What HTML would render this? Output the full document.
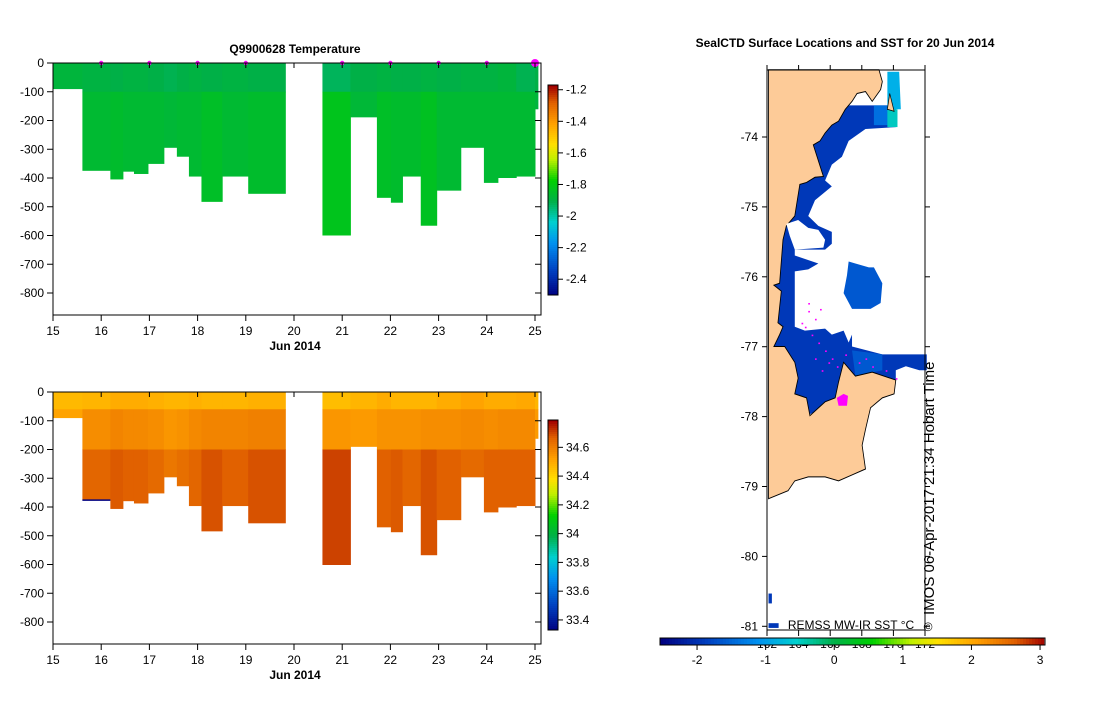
<!DOCTYPE html>
<html><head><meta charset="utf-8"><style>
body{margin:0;background:#fff;}
svg text{font-family:"Liberation Sans",sans-serif;font-size:12px;fill:#000;}
.b{font-weight:bold;}
</style></head><body>
<svg id="s" width="1099" height="700" viewBox="0 0 1099 700" xmlns="http://www.w3.org/2000/svg">
<text x="295" y="53" text-anchor="middle" class="b">Q9900628  Temperature</text>
<text x="845" y="47" text-anchor="middle" class="b">SealCTD Surface Locations and SST for 20 Jun 2014</text>
<g id="map"></g>
</svg>
<script>
const colStart=[15,15.61,16.19,16.45,16.68,16.97,17.30,17.57,17.82,18.08,18.51,19.05,20.59,21.17,21.72,22.01,22.25,22.63,22.96,23.46,23.94,24.23,24.61,25.0];
const colEnd=[15.61,16.19,16.45,16.68,16.97,17.30,17.57,17.82,18.08,18.51,19.05,19.82,21.17,21.72,22.01,22.25,22.63,22.96,23.46,23.94,24.23,24.61,25.0,25.06];
const colDepth=[89,375,405,378,386,351,295,326,395,483,395,455,600,189,469,486,395,566,444,295,417,400,395,161];
const tempSurface=[-1.88,-1.89,-1.9,-1.89,-1.89,-1.9,-1.91,-1.9,-1.89,-1.9,-1.89,-1.9,-1.92,-1.9,-1.89,-1.9,-1.9,-1.89,-1.9,-1.89,-1.89,-1.88,-1.91,-1.9];
const tempDeep=[-1.86,-1.86,-1.85,-1.86,-1.86,-1.86,-1.87,-1.86,-1.86,-1.84,-1.86,-1.85,-1.82,-1.87,-1.84,-1.85,-1.85,-1.83,-1.86,-1.86,-1.86,-1.86,-1.86,-1.88];
const salSurface=[34.47,34.48,34.5,34.5,34.5,34.49,34.48,34.48,34.49,34.48,34.48,34.49,34.46,34.48,34.5,34.48,34.48,34.48,34.5,34.52,34.5,34.5,34.51,34.48];
const salMid=[34.52,34.57,34.59,34.58,34.58,34.57,34.55,34.56,34.58,34.59,34.59,34.6,34.55,34.54,34.56,34.56,34.56,34.57,34.57,34.58,34.57,34.58,34.58,34.54];
const salDeep=[34.56,34.66,34.68,34.67,34.67,34.65,34.62,34.64,34.66,34.69,34.67,34.69,34.71,34.58,34.67,34.68,34.66,34.69,34.67,34.65,34.67,34.67,34.67,34.56];
const dayTicks=[15,16,17,18,19,20,21,22,23,24,25];
const depthTicks=[0,-100,-200,-300,-400,-500,-600,-700,-800];
const markerDays=[16,17,18,19,21,22,23,24,25];
const tempCbTicks=[-1.2,-1.4,-1.6,-1.8,-2,-2.2,-2.4];
const salCbTicks=[34.6,34.4,34.2,34,33.8,33.6,33.4];
const sstTicks=[-2,-1,0,1,2,3];
const latTicks=[-74,-75,-76,-77,-78,-79,-80,-81];
const lonTicks=[162,164,166,168,170,172];

const NS="http://www.w3.org/2000/svg";
const svg=document.getElementById('s');
function el(t,a,p){const e=document.createElementNS(NS,t);for(const k in a)e.setAttribute(k,a[k]);(p||svg).appendChild(e);return e;}
const stops=[[0,[0,0,128]],[0.12,[0,64,192]],[0.25,[0,144,240]],[0.35,[0,208,208]],[0.45,[0,176,72]],[0.55,[0,208,0]],[0.65,[192,240,0]],[0.72,[255,224,0]],[0.82,[255,160,0]],[0.92,[224,96,0]],[1,[160,0,0]]];
function jet(f){f=Math.max(0,Math.min(1,f));for(let i=1;i<stops.length;i++){if(f<=stops[i][0]){const a=stops[i-1],b=stops[i];const t=(f-a[0])/(b[0]-a[0]);const c=a[1].map((v,j)=>Math.round(v+(b[1][j]-v)*t));return `rgb(${c})`;}}return 'rgb(160,0,0)';}

function panel(top,name,cb){
  const X=d=>53+(d-15)*48.2, Y=z=>top+(-z)*0.2875;
  const g=el('g',{});
  cb.draw(g,X,Y);
  const fr=el('rect',{x:53,y:top,width:488,height:252,fill:'none',stroke:'#000','stroke-width':1},g);
  
  depthTicks.forEach(v=>{const y=Y(v);el('line',{x1:47,x2:53,y1:y,y2:y,stroke:'#000'},g);el('line',{x1:535,x2:541,y1:y,y2:y,stroke:'#000'},g);
    const t=el('text',{x:44,y:y+4,'text-anchor':'end'},g);t.textContent=v;});
  dayTicks.forEach(d=>{const x=X(d);el('line',{x1:x,x2:x,y1:top+252,y2:top+258,stroke:'#000'},g);el('line',{x1:x,x2:x,y1:top,y2:top+5,stroke:'#000'},g);
    const t=el('text',{x:x,y:top+272,'text-anchor':'middle'},g);t.textContent=d;});
  const xl=el('text',{x:295,y:top+287,'text-anchor':'middle',class:'b'},g);xl.textContent='Jun 2014';
  const cy0=cb.y0;
  for(let i=0;i<105;i++){const f=1-i/105;el('rect',{x:548,y:cy0+i*2,width:10,height:2.3,fill:jet(f)},g);}
  const cf=el('rect',{x:548,y:cy0,width:10,height:210,fill:'none',stroke:'#000'},g);
  cb.ticks.forEach(v=>{const y=cy0+(cb.max-v)/(cb.max-cb.min)*210;el('line',{x1:558,x2:563,y1:y,y2:y,stroke:'#000'},g);
    const t=el('text',{x:566,y:y+4},g);t.textContent=v;});
}
const TMIN=-2.5,TMAX=-1.17,SMIN=33.33,SMAX=34.79;
panel(63,'temperature',{y0:85,min:TMIN,max:TMAX,ticks:tempCbTicks,draw:(g,X,Y)=>{
  colStart.forEach((s,i)=>{const x=X(s),w=X(colEnd[i])-x;const d1=Math.min(100,colDepth[i]);
    const a=el('rect',{x:x,y:Y(0),width:w+0.5,height:Y(-d1)-Y(0)+0.5,fill:jet((tempSurface[i]-TMIN)/(TMAX-TMIN))},g);
    
    if(colDepth[i]>100){const b=el('rect',{x:x,y:Y(-100),width:w+0.5,height:Y(-colDepth[i])-Y(-100),fill:jet((tempDeep[i]-TMIN)/(TMAX-TMIN))},g);
      }});
  markerDays.forEach((d,i)=>{const c=el('circle',{cx:X(d),cy:Y(0),r:i==markerDays.length-1?4:2.2,fill:'#ff00ff'},g);});
}});
panel(392,'salinity',{y0:420,min:SMIN,max:SMAX,ticks:salCbTicks,draw:(g,X,Y)=>{
  colStart.forEach((s,i)=>{const x=X(s),w=X(colEnd[i])-x,D=colDepth[i];
    const bands=[[0,Math.min(60,D),salSurface[i]],[60,Math.min(200,D),salMid[i]],[200,D,salDeep[i]]];
    bands.forEach(b=>{if(b[1]<=b[0])return;const r=el('rect',{x:x,y:Y(-b[0]),width:w+0.5,height:Y(-b[1])-Y(-b[0])+0.5,fill:jet((b[2]-SMIN)/(SMAX-SMIN))},g);
      });});
  el('line',{x1:X(15.61),x2:X(16.19),y1:Y(-376),y2:Y(-376),stroke:'#000080','stroke-width':1.5},g);
}});

const m=document.getElementById('map');
const inner=el('g',{transform:'translate(650,50) scale(0.3367,0.3953)'},m);
const sea=el('polygon',{fill:'#0038b8',points:'352,140 730,140 730,195 640,200 590,230 570,270 540,290 520,330 540,345 490,380 470,420 500,445 540,460 540,490 520,505 430,505 430,520 500,540 470,555 430,560 430,700 460,710 520,705 540,720 575,710 590,740 600,720 600,750 690,770 822,770 822,810 800,810 760,800 730,810 730,840 352,960'},inner);

el('polygon',{fill:'#0070e0',points:'665,140 730,140 730,190 665,190'},inner);
el('polygon',{fill:'#00b0e8',points:'705,55 740,55 745,150 705,150'},inner);
el('polygon',{fill:'#00c8c0',points:'705,150 735,150 735,195 705,195'},inner);
const patch=el('polygon',{fill:'#0058d0',points:'590,535 610,540 650,550 665,550 690,590 685,640 655,655 600,655 575,615 585,570'},inner);

el('polygon',{fill:'#0058d0',points:'600,760 690,770 690,810 610,825'},inner);
const land=el('polygon',{fill:'#fdcb98',stroke:'#000','stroke-width':2.5,points:'352,50 680,50 690,80 685,100 660,130 640,105 615,110 600,130 580,150 560,180 540,190 520,210 505,230 485,240 500,280 515,320 490,322 465,335 445,340 430,420 405,445 395,480 385,590 368,595 390,610 380,690 395,700 385,720 368,750 400,750 430,790 440,830 430,870 465,880 475,925 520,890 550,880 560,840 575,790 610,825 660,815 730,835 725,870 690,880 655,905 640,960 630,1000 640,1060 600,1075 560,1090 520,1080 470,1080 430,1090 410,1115 352,1135'},inner);

el('polygon',{fill:'#fff',points:'405,440 440,430 470,450 500,455 520,480 515,500 430,505 415,470'},inner);
el('polygon',{fill:'#fdcb98',stroke:'#000','stroke-width':2,points:'705,150 712,110 725,155'},inner);
el('rect',{x:352,y:1375,width:10,height:25,fill:'#0038b8'},inner);
el('rect',{x:352,y:1450,width:30,height:12,fill:'#0038b8'},inner);
const mc=el('polygon',{fill:'#ff00ff',points:'555,880 575,870 588,875 585,900 560,900'},inner);
[[470,640],[490,680],[460,700],[480,720],[500,740],[520,760],[540,780],[580,770],[620,790],[660,800],[700,810],[730,830],[490,780],[510,810],[530,790],[470,660],[505,655],[450,690],[555,800],[640,780]].forEach(p=>{const c=el('rect',{x:p[0],y:p[1],width:5,height:4,fill:'#ff00ff'},inner);});
const mf=el('rect',{x:767,y:70,width:158,height:560,fill:'none',stroke:'#000'},m);
const LY=v=>137+(-74-v)*69.9;
latTicks.forEach(v=>{const y=LY(v);el('line',{x1:762,x2:767,y1:y,y2:y,stroke:'#000'},m);el('line',{x1:925,x2:930,y1:y,y2:y,stroke:'#000'},m);
  const t=el('text',{x:758,y:y+4,'text-anchor':'end'},m);t.textContent=v;});
lonTicks.forEach(v=>{const x=767+(v-162)*15.8;el('line',{x1:x,x2:x,y1:65,y2:70,stroke:'#000'},m);el('line',{x1:x,x2:x,y1:630,y2:636,stroke:'#000'},m);
  const t=el('text',{x:x,y:648,'text-anchor':'middle'},m);t.textContent=v;});
const SX=v=>660+(v+2.54)*68.6;
for(let i=0;i<128;i++){el('rect',{x:660+i*3,y:638,width:3.3,height:7,fill:jet(i/128)},m);}
const sb=el('rect',{x:660,y:638,width:385,height:7,fill:'none',stroke:'#000'},m);
sstTicks.forEach(v=>{const x=SX(v);el('line',{x1:x,x2:x,y1:645,y2:650,stroke:'#000'},m);
  const t=el('text',{x:x,y:664,'text-anchor':'middle'},m);t.textContent=v;});
const src=el('text',{x:851,y:629,'text-anchor':'middle'},m);src.textContent='REMSS MW-IR SST °C';
const cp=el('text',{x:928,y:631,'text-anchor':'middle'},m);cp.textContent='©';
const im=el('text',{x:0,y:0,transform:'translate(934,615) rotate(-90)',style:'font-size:15px'},m);im.textContent='IMOS 06-Apr-2017 21:34 Hobart Time';
</script>
</body></html>
